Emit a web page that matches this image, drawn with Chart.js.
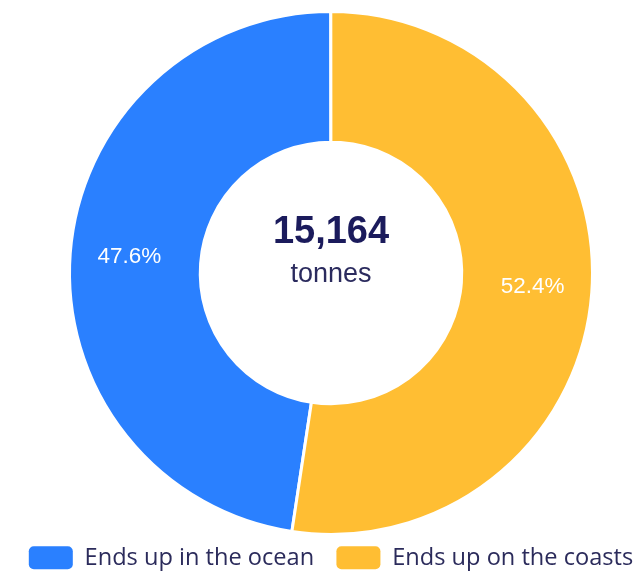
<!DOCTYPE html>
<html>
<head>
<meta charset="utf-8">
<script src="https://cdn.jsdelivr.net/npm/chart.js@4"></script>
<style>
  html, body { margin: 0; padding: 0; background: #fff; }
  #wrap { width: 640px; height: 571px; }
</style>
</head>
<body>
<div id="wrap"><canvas id="plasticChart"></canvas></div>
<script>
const categories = ["Ends up in the ocean", "Ends up on the coasts"];
const tonnes = [7218, 7946];
const colors = ["#2a80ff", "#ffbe33"];
const unitLabel = "tonnes";

(() => {
    const total = tonnes.reduce((a, b) => a + b, 0);

    // --------- legend: one row, tight under the ring ---------
    const legendFit = {
        id: "legendFit",
        beforeInit(chart) {
            const legend = chart.legend;
            if (!legend) return;
            const origFit = legend.fit;
            legend.fit = function () {
                const mw = this.maxWidth;
                this.maxWidth = 2000; // stop the second item wrapping
                origFit.call(this);
                this.maxWidth = mw;
                this.width = mw;
                this.height = 35;
            };
            const origDraw = legend.draw;
            legend.draw = function () {
                // widen both sides equally so the row stays centred and unwrapped
                this.left -= 30; this.right += 30;
                origDraw.call(this);
                this.left += 30; this.right -= 30;
            };
        }
    };

    // --------- center text + slice percentages ---------
    const doughnutText = {
        id: "doughnutText",
        afterDatasetsDraw(chart) {
            const { ctx } = chart;
            const meta = chart.getDatasetMeta(0);
            const arc0 = meta.data[0];
            if (!arc0) return;
            const cx = arc0.x, cy = arc0.y;

            ctx.save();
            ctx.textAlign = "center";
            ctx.textBaseline = "middle";

            ctx.fillStyle = "#1b1b5c";
            ctx.font = "bold 38px 'Liberation Sans', Arial, sans-serif";
            ctx.fillText(total.toLocaleString("en-US"), cx, cy - 40);
            ctx.fillStyle = "#2b2b5e";
            ctx.font = "27px 'Liberation Sans', Arial, sans-serif";
            ctx.fillText(unitLabel, cx, cy + 2);

            ctx.fillStyle = "#ffffff";
            ctx.font = "22.5px 'Liberation Sans', Arial, sans-serif";
            meta.data.forEach((arc, i) => {
                const mid = (arc.startAngle + arc.endAngle) / 2;
                const r = (arc.innerRadius + arc.outerRadius) / 2 + 6;
                const pct = (tonnes[i] / total * 100).toFixed(1) + "%";
                ctx.fillText(pct, arc.x + Math.cos(mid) * r, arc.y + Math.sin(mid) * r - 1);
            });
            ctx.restore();
        }
    };

    new Chart(document.getElementById("plasticChart"), {
        type: "doughnut",
        data: {
            labels: categories,
            datasets: [{
                data: tonnes,
                backgroundColor: colors,
                borderColor: "#ffffff",
                borderWidth: 3
            }]
        },
        options: {
            responsive: true,
            maintainAspectRatio: false,
            animation: false,
            cutout: "50%",
            rotation: 188.6,
            layout: { padding: { top: 10, left: 22, right: 0, bottom: 0 } },
            plugins: {
                tooltip: { enabled: false },
                legend: {
                    position: "bottom",
                    labels: {
                        boxWidth: 44,
                        boxHeight: 23,
                        padding: 10,
                        color: "#2b2b5b",
                        font: { family: "'Open Sans', sans-serif", size: 23.6 },
                        generateLabels(chart) {
                            // trailing spaces widen the gap between the two items
                            return categories.map((c, i) => ({
                                text: i < categories.length - 1 ? c + "  " : c,
                                fillStyle: colors[i],
                                strokeStyle: colors[i],
                                lineWidth: 0,
                                borderRadius: 5,
                                fontColor: "#2b2b5b",
                                index: i
                            }));
                        }
                    }
                }
            }
        },
        plugins: [legendFit, doughnutText]
    });
})();
</script>
</body>
</html>
